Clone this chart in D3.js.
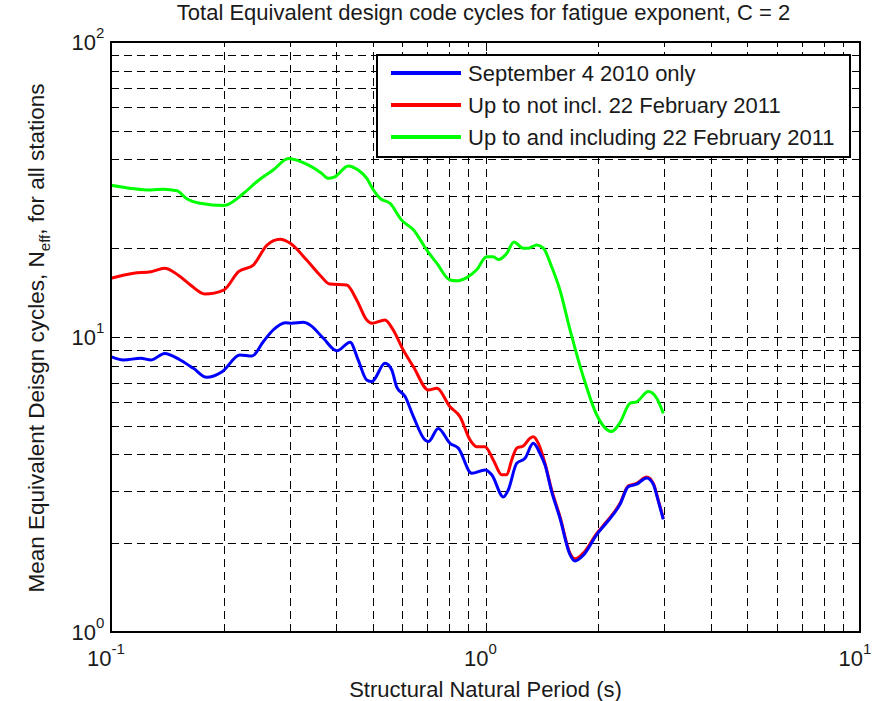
<!DOCTYPE html>
<html>
<head>
<meta charset="utf-8">
<script src="https://cdn.jsdelivr.net/npm/d3@7"></script>
<style>
  html, body { margin: 0; padding: 0; background: #fff; }
  svg { display: block; font-family: "Liberation Sans", Arial, sans-serif; }
</style>
</head>
<body>
<svg id="chart" width="877" height="701"></svg>
<script>
// Mean equivalent design cycles per structural period, three event windows
const periodSep = [0.100, 0.108, 0.120, 0.128, 0.139, 0.153, 0.166, 0.180, 0.198, 0.221, 0.238, 0.255, 0.271, 0.292, 0.304, 0.326, 0.340, 0.369, 0.401, 0.435, 0.457, 0.482, 0.497, 0.539, 0.562, 0.579, 0.610, 0.642, 0.689, 0.704, 0.748, 0.804, 0.846, 0.919, 0.997, 1.039, 1.116, 1.150, 1.211, 1.275, 1.341, 1.398, 1.442, 1.502, 1.581, 1.681, 1.734, 1.824, 1.982, 2.107, 2.287, 2.406, 2.533, 2.694, 2.806, 2.893, 2.984];
const nSep = [8.58, 8.36, 8.47, 8.36, 8.80, 8.36, 7.83, 7.30, 7.63, 8.69, 8.62, 9.64, 10.56, 11.18, 11.13, 11.21, 10.98, 9.90, 8.98, 9.60, 8.36, 7.15, 7.06, 8.14, 7.73, 6.78, 6.28, 5.37, 4.48, 4.42, 4.90, 4.36, 4.20, 3.45, 3.54, 3.41, 2.87, 3.03, 3.73, 3.88, 4.36, 4.03, 3.68, 2.99, 2.43, 1.83, 1.74, 1.82, 2.14, 2.35, 2.71, 3.11, 3.17, 3.33, 3.17, 2.78, 2.41];

const periodPreFeb = [0.100, 0.115, 0.128, 0.139, 0.151, 0.163, 0.178, 0.200, 0.219, 0.240, 0.261, 0.283, 0.301, 0.333, 0.361, 0.384, 0.426, 0.453, 0.482, 0.497, 0.539, 0.567, 0.603, 0.642, 0.704, 0.741, 0.804, 0.855, 0.909, 0.947, 0.997, 1.049, 1.105, 1.139, 1.175, 1.211, 1.261, 1.315, 1.341, 1.384, 1.442, 1.502, 1.581, 1.681, 1.734, 1.824, 1.982, 2.107, 2.287, 2.406, 2.533, 2.694, 2.806, 2.893, 2.984];
const nPreFeb = [15.81, 16.44, 16.65, 17.10, 16.23, 15.01, 13.99, 14.43, 16.65, 17.54, 20.50, 21.44, 20.78, 18.24, 16.23, 15.12, 15.01, 13.35, 11.42, 11.13, 11.42, 10.56, 9.03, 7.93, 6.61, 6.70, 5.80, 5.37, 4.48, 4.25, 4.25, 3.83, 3.41, 3.41, 3.83, 4.20, 4.27, 4.54, 4.59, 4.36, 3.73, 3.03, 2.46, 1.85, 1.77, 1.85, 2.16, 2.37, 2.73, 3.13, 3.19, 3.35, 3.19, 2.80, 2.43];

const periodAll = [0.100, 0.128, 0.138, 0.150, 0.159, 0.173, 0.200, 0.226, 0.245, 0.271, 0.298, 0.336, 0.365, 0.380, 0.396, 0.430, 0.457, 0.482, 0.502, 0.523, 0.556, 0.597, 0.642, 0.697, 0.741, 0.804, 0.838, 0.891, 0.947, 1.007, 1.049, 1.082, 1.139, 1.191, 1.261, 1.301, 1.370, 1.427, 1.502, 1.581, 1.681, 1.824, 1.982, 2.173, 2.287, 2.431, 2.533, 2.721, 2.865, 2.984];
const nAll = [32.7, 31.5, 31.7, 31.3, 29.5, 28.4, 27.9, 30.7, 33.6, 36.8, 40.3, 38.3, 35.9, 34.5, 34.9, 38.0, 36.8, 34.5, 31.5, 29.5, 28.4, 24.9, 23.1, 19.7, 17.8, 15.6, 15.5, 15.9, 16.9, 18.7, 18.7, 18.3, 19.2, 21.0, 20.0, 20.0, 20.5, 20.0, 17.3, 14.4, 10.6, 7.34, 5.44, 4.78, 5.13, 5.96, 6.03, 6.53, 6.20, 5.51];

const seriesNames = ["September 4 2010 only", "Up to not incl. 22 February 2011", "Up to and including 22 February 2011"];
const seriesColors = ["#0000ff", "#ff0000", "#00ff00"];

const xDomain = [0.1, 10];
const yDomain = [1, 100];
const xMajor = [0.1, 1, 10];
const yMajor = [1, 10, 100];
const xExponents = ["-1", "0", "1"];
const yExponents = ["0", "1", "2"];

const titleText = "Total Equivalent design code cycles for fatigue exponent, C = 2";
const xLabelText = "Structural Natural Period (s)";

// ---- layout ----
const svg = d3.select("#chart");
const pLeft = 111, pRight = 860, pTop = 42, pBottom = 632;
const W = pRight - pLeft, H = pBottom - pTop;

const x = d3.scaleLog().domain(xDomain).range([pLeft, pRight]);
const y = d3.scaleLog().domain(yDomain).range([pBottom, pTop]);

// every 1..9 multiple within each decade
function decadeSteps(lo, hi) {
  const out = [];
  for (let d = lo; d < hi; d *= 10) for (let m = 1; m <= 9; m++) out.push(+(m * d).toPrecision(3));
  out.push(hi);
  return out;
}
const xSteps = decadeSteps(xDomain[0], xDomain[1]);
const ySteps = decadeSteps(yDomain[0], yDomain[1]);

// dashed grid
const grid = svg.append("g").attr("class", "grid").attr("shape-rendering", "crispEdges");
grid.append("g")
  .attr("transform", `translate(0,${pBottom})`)
  .call(d3.axisBottom(x).tickValues(xSteps.filter(v => v > xDomain[0] && v < xDomain[1])).tickSize(-H).tickFormat(""));
grid.append("g")
  .attr("transform", `translate(${pLeft},0)`)
  .call(d3.axisLeft(y).tickValues(ySteps.filter(v => v > yDomain[0] && v < yDomain[1])).tickSize(-W).tickFormat(""));
grid.selectAll(".domain").remove();
grid.selectAll("line").attr("stroke", "#000").attr("stroke-width", 1).attr("stroke-dasharray", "8,5");

// inward tick marks on all four sides
function ticks(axis, tx, ty, values, len) {
  const g = svg.append("g").attr("transform", `translate(${tx},${ty})`)
    .attr("shape-rendering", "crispEdges")
    .call(axis.tickValues(values).tickSize(-len).tickFormat(""));
  g.selectAll(".domain").remove();
  g.selectAll("line").attr("stroke", "#000").attr("stroke-width", 1);
}
const xMinor = xSteps.filter(v => !xMajor.includes(v));
const yMinor = ySteps.filter(v => !yMajor.includes(v));
ticks(d3.axisBottom(x), 0, pBottom, xMinor, 5);
ticks(d3.axisTop(x), 0, pTop, xMinor, 5);
ticks(d3.axisLeft(y), pLeft, 0, yMinor, 5);
ticks(d3.axisRight(y), pRight, 0, yMinor, 5);
ticks(d3.axisBottom(x), 0, pBottom, xMajor, 9);
ticks(d3.axisTop(x), 0, pTop, xMajor, 9);
ticks(d3.axisLeft(y), pLeft, 0, yMajor, 9);
ticks(d3.axisRight(y), pRight, 0, yMajor, 9);

// data lines
const line = d3.line()
  .x(d => x(d[0]))
  .y(d => y(d[1]))
  .curve(d3.curveMonotoneX);
const seriesData = [
  d3.zip(periodAll, nAll),
  d3.zip(periodPreFeb, nPreFeb),
  d3.zip(periodSep, nSep)
];
const drawOrder = [2, 1, 0];
svg.append("g").selectAll("path")
  .data(seriesData)
  .join("path")
  .attr("d", line)
  .attr("fill", "none")
  .attr("stroke", (d, i) => seriesColors[drawOrder[i]])
  .attr("stroke-width", 3)
  .attr("stroke-linejoin", "round");

// axes box
svg.append("rect")
  .attr("x", pLeft).attr("y", pTop).attr("width", W).attr("height", H)
  .attr("shape-rendering", "crispEdges")
  .attr("fill", "none").attr("stroke", "#000").attr("stroke-width", 1.5);

// tick labels, 10 with superscript exponent
const tickFont = 22, expFont = 15;
svg.append("g").selectAll("text")
  .data(xMajor)
  .join("text")
  .attr("x", d => x(d) - 5)
  .attr("y", pBottom + 34)
  .attr("text-anchor", "middle")
  .attr("font-size", tickFont)
  .attr("fill", "#1a1a1a")
  .each(function (d, i) {
    const t = d3.select(this);
    t.append("tspan").text("10");
    t.append("tspan").attr("dy", -12).attr("font-size", expFont).text(xExponents[i]);
  });
svg.append("g").selectAll("text")
  .data(yMajor)
  .join("text")
  .attr("x", pLeft - 15)
  .attr("y", d => y(d) + 8)
  .attr("text-anchor", "end")
  .attr("font-size", tickFont)
  .attr("fill", "#1a1a1a")
  .each(function (d, i) {
    const t = d3.select(this);
    t.append("tspan").text("10");
    t.append("tspan").attr("x", pLeft - 15).attr("dy", -12).attr("text-anchor", "start").attr("font-size", expFont).text(yExponents[i]);
  });

// title and axis labels
svg.append("text")
  .attr("x", (pLeft + pRight) / 2 - 2).attr("y", 20)
  .attr("text-anchor", "middle")
  .attr("font-size", 22)
  .attr("fill", "#1a1a1a")
  .text(titleText);
svg.append("text")
  .attr("x", (pLeft + pRight) / 2).attr("y", 697)
  .attr("text-anchor", "middle")
  .attr("font-size", 22)
  .attr("fill", "#1a1a1a")
  .text(xLabelText);
const yl = svg.append("text")
  .attr("transform", `translate(44,${(pTop + pBottom) / 2 + 1}) rotate(-90)`)
  .attr("text-anchor", "middle")
  .attr("font-size", 22.5)
  .attr("fill", "#1a1a1a");
yl.append("tspan").text("Mean Equivalent Deisgn cycles, N");
yl.append("tspan").attr("dy", 6).attr("font-size", 15).text("eff");
yl.append("tspan").attr("dy", -6).text(", for all stations");

// legend
const lg = svg.append("g");
lg.append("rect")
  .attr("x", 377).attr("y", 55).attr("width", 473).attr("height", 102)
  .attr("shape-rendering", "crispEdges")
  .attr("fill", "#fff").attr("stroke", "#000").attr("stroke-width", 1.5);
const rows = lg.selectAll("g.row")
  .data(seriesNames)
  .join("g")
  .attr("class", "row")
  .attr("transform", (d, i) => `translate(0,${73 + i * 32})`);
rows.append("line")
  .attr("x1", 391).attr("x2", 461)
  .attr("stroke", (d, i) => seriesColors[i])
  .attr("stroke-width", 4);
rows.append("text")
  .attr("x", 468).attr("y", 8)
  .attr("font-size", 22)
  .attr("fill", "#1a1a1a")
  .text(d => d);
</script>
</body>
</html>
